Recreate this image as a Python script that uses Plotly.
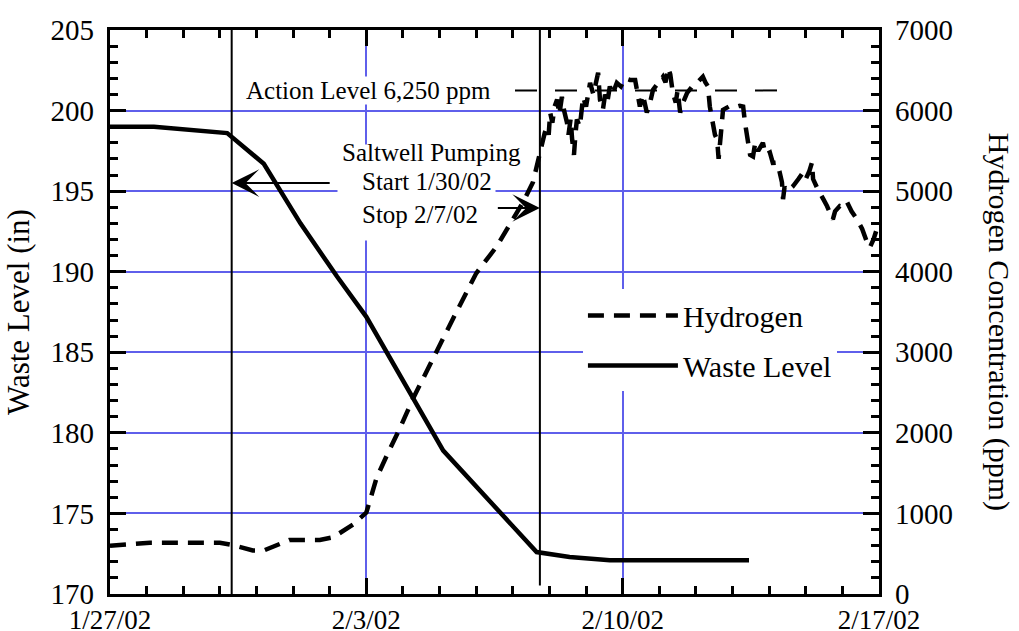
import pandas as pd
import plotly.graph_objects as go

START = pd.Timestamp("2002-01-27")

# ---- data (elapsed days since 1/27/02) ----
waste_days = [0.0, 1.2, 3.2, 4.2, 5.2, 6.2, 7.0, 9.1, 11.65, 12.55, 13.65, 17.45]
waste_level = [199.0, 199.0, 198.6, 196.7, 193.0, 189.7, 187.2, 178.9, 172.6, 172.3, 172.1, 172.1]

h2_days = [0.0, 1.09, 3.0, 3.32, 3.9, 4.2, 4.9, 5.73, 6.1, 6.64, 7.0, 7.28, 7.6, 7.92,
           8.28, 8.82, 9.37, 10.0, 10.57, 11.0, 11.3, 11.55, 11.62, 11.71, 11.76, 11.82,
           11.87, 11.93, 11.98, 12.02, 12.08, 12.14, 12.21, 12.27, 12.34, 12.40, 12.48,
           12.52, 12.58, 12.62, 12.67, 12.71, 12.75, 12.83, 12.92, 13.0, 13.11, 13.2,
           13.33, 13.38, 13.46, 13.52, 13.58, 13.65, 13.72, 13.84, 13.95, 14.06, 14.2,
           14.34, 14.4, 14.47, 14.55, 14.66, 14.75, 14.83, 14.95, 15.10, 15.17, 15.24,
           15.30, 15.37, 15.45, 15.5, 15.57, 15.65, 15.76, 15.9, 16.03, 16.1, 16.19,
           16.26, 16.33, 16.38, 16.47, 16.52, 16.58, 16.62, 16.68, 16.74, 16.9, 17.05,
           17.2, 17.29, 17.34, 17.42, 17.48, 17.56, 17.62, 17.7, 17.83, 17.9, 18.02,
           18.1, 18.21, 18.28, 18.35, 18.38, 18.42, 18.5, 18.65, 18.8, 18.92, 19.0,
           19.1, 19.17, 19.2, 19.3, 19.39, 19.48, 19.58, 19.66, 19.74, 19.8, 19.93,
           20.05, 20.13, 20.25, 20.4, 20.54, 20.6, 20.67, 20.75, 20.85, 20.94, 21.0]
h2_ppm = [600, 635, 635, 610, 540, 540, 670, 670, 705, 864, 1010, 1440, 1760, 2060,
          2430, 2930, 3420, 3980, 4320, 4650, 4880, 5110, 5250, 5395, 5520, 5600,
          5720, 5800, 5700, 5975, 5850, 6050, 6136, 5950, 6170, 6000, 5850,
          5700, 5900, 5640, 5450, 5700, 5890, 5800, 6170, 6050, 6345, 6200,
          6470, 6136, 6010, 6200, 6100, 6300, 6200, 6345, 6300, 6400, 6380,
          6380, 6250, 6050, 6200, 5975, 6100, 6260, 6330, 6420, 6350, 6530,
          6450, 6220, 6100, 6250, 5975, 6100, 6220, 6300, 6345, 6380, 6420,
          6350, 6300, 6050, 5850, 5700, 5640, 5400, 5700, 6010, 6050, 6040,
          6060, 6050, 5850, 5600, 5450, 5430, 5600, 5500, 5600, 5450, 5480,
          5350, 5355, 5250, 5110, 4900, 5050, 5000, 5060, 5150, 5230, 5150,
          5250, 5355, 5150, 5050, 4985, 4900, 4815, 4720, 4650, 4750, 4815,
          4800, 4860, 4750, 4650, 4530, 4450, 4370, 4300, 4400, 4530, 4600]

x_range = ["2002-01-27", "2002-02-17"]
x_tick_format = "%-m/%-d/%y"   # 1/27/02, 2/3/02, 2/10/02, 2/17/02
x_tick_step_days = 7
left_range = [170, 205]
right_range = [0, 7000]

action_level = 6250
pump_start = "2002-01-30 07:45"
pump_stop = "2002-02-07 17:45"

DAY_MS = 86400000


def d(days):
    t = START + pd.to_timedelta(days, unit="D")
    return t.round("min").strftime("%Y-%m-%d %H:%M")


waste_x = [d(v) for v in waste_days]
h2_x = [d(v) for v in h2_days]

FONT = "Liberation Serif, Times New Roman, serif"
GRID = "rgb(95,95,235)"

fig = go.Figure()
fig.add_trace(go.Scatter(
    x=waste_x, y=waste_level, name="Waste Level", mode="lines",
    line=dict(color="black", width=4.5),
    legendrank=2, legendgroup="w"))
fig.add_trace(go.Scatter(
    x=h2_x, y=h2_ppm, yaxis="y2", name="Hydrogen", mode="lines",
    line=dict(color="black", width=4.5, dash="16px,10px"),
    legendrank=1, legendgroup="h"))
# empty traces that attach the tick-only axes
fig.add_trace(go.Scatter(x=[], y=[], xaxis="x2", yaxis="y", showlegend=False, hoverinfo="skip"))
fig.add_trace(go.Scatter(x=[], y=[], xaxis="x", yaxis="y3", showlegend=False, hoverinfo="skip"))
fig.add_trace(go.Scatter(x=[], y=[], xaxis="x", yaxis="y4", showlegend=False, hoverinfo="skip"))

label_axis = dict(showline=True, linecolor="black", linewidth=3, ticks="",
                  zeroline=False, automargin=False)
tick_axis = dict(showline=True, linecolor="black", linewidth=3,
                 ticks="inside", tickcolor="black", tickwidth=3, ticklen=16,
                 showticklabels=False, showgrid=False, zeroline=False, automargin=False)

fig.update_layout(
    width=1019, height=631,
    margin=dict(l=110, r=140, t=30, b=37, autoexpand=False),
    paper_bgcolor="white", plot_bgcolor="white",
    font=dict(family=FONT, color="black"),
    showlegend=True,
    legend=dict(x=0.615, y=0.540, xanchor="left", yanchor="top",
                bgcolor="white", borderwidth=0,
                font=dict(family=FONT, size=30, color="black"),
                tracegroupgap=8, itemwidth=90),
    xaxis=dict(
        type="date", range=x_range,
        tickmode="linear", tick0=x_range[0], dtick=x_tick_step_days * DAY_MS,
        tickformat=x_tick_format, mirror=True,
        tickfont=dict(family=FONT, size=27, color="black"),
        showgrid=True, gridcolor=GRID, gridwidth=2,
        **label_axis),
    yaxis=dict(
        range=left_range, tick0=170, dtick=5, ticksuffix="\u00a0",
        tickfont=dict(family=FONT, size=29, color="black"),
        showgrid=True, gridcolor=GRID, gridwidth=2,
        title=dict(text="Waste Level (in)", font=dict(family=FONT, size=31, color="black"),
                   standoff=12),
        **label_axis),
    yaxis2=dict(
        overlaying="y", side="right", range=right_range, tick0=0, dtick=1000,
        tickprefix="\u00a0",
        tickfont=dict(family=FONT, size=29, color="black"),
        showgrid=False,
        **label_axis),
    # tick-only axes (inside ticks, major + minor)
    xaxis2=dict(
        overlaying="x", anchor="y", side="bottom", type="date", range=x_range,
        tickmode="linear", tick0=x_range[0], dtick=x_tick_step_days * DAY_MS,
        mirror="ticks",
        minor=dict(dtick=DAY_MS, ticks="inside", ticklen=8, tickwidth=3,
                   tickcolor="black"),
        **tick_axis),
    yaxis3=dict(
        overlaying="y", anchor="x", side="left", range=left_range, tick0=170, dtick=5,
        minor=dict(dtick=1, ticks="inside", ticklen=8, tickwidth=3, tickcolor="black"),
        **tick_axis),
    yaxis4=dict(
        overlaying="y", anchor="x", side="right", range=right_range, tick0=0, dtick=1000,
        minor=dict(dtick=200, ticks="inside", ticklen=8, tickwidth=3, tickcolor="black"),
        **tick_axis),
)

# white mask behind the pumping text (hides the grid there)
fig.add_annotation(x=d(8.37), y=194.92, xref="x", yref="y", text=" ",
                   width=157, height=95, bgcolor="white", borderpad=0,
                   showarrow=False)

# pumping start / stop lines
fig.add_shape(type="line", xref="x", yref="paper", x0=pump_start, x1=pump_start,
              y0=0, y1=1, line=dict(color="black", width=2))
fig.add_shape(type="line", xref="x", yref="paper", x0=pump_stop, x1=pump_stop,
              y0=0.015, y1=1.005, line=dict(color="black", width=2))

# action level line
fig.add_shape(type="line", xref="x", yref="y2", x0=d(11.06), x1=d(18.24),
              y0=action_level, y1=action_level,
              line=dict(color="black", width=2, dash="22px,18px"))

fig.add_annotation(x=d(7.07), y=action_level, xref="x", yref="y2",
                   text="Action Level 6,250 ppm", showarrow=False,
                   font=dict(family=FONT, size=25, color="black"),
                   bgcolor="white", borderpad=0)
fig.add_annotation(x=d(8.77), y=5481, xref="x", yref="y2",
                   text="Saltwell Pumping", showarrow=False,
                   font=dict(family=FONT, size=25, color="black"))
fig.add_annotation(x=d(6.83), y=4914, xref="x", yref="y2", xanchor="left", align="left",
                   text="Start 1/30/02<br>Stop 2/7/02", showarrow=False,
                   font=dict(family=FONT, size=25, color="black"))

# arrows
fig.add_annotation(x=pump_start, y=195.5, xref="x", yref="y",
                   ax=d(6.04), ay=195.5, axref="x", ayref="y", text="",
                   showarrow=True, arrowhead=3, arrowsize=2.3, arrowwidth=2,
                   arrowcolor="black", standoff=0)
fig.add_annotation(x=pump_stop, y=193.95, xref="x", yref="y",
                   ax=d(10.55), ay=193.95, axref="x", ayref="y", text="",
                   showarrow=True, arrowhead=3, arrowsize=2.3, arrowwidth=2,
                   arrowcolor="black", standoff=0)

# right axis title (reads top to bottom)
fig.add_annotation(x=1.157, y=0.483, xref="paper", yref="paper",
                   xanchor="center", yanchor="middle",
                   text="Hydrogen Concentration (ppm)", textangle=90, showarrow=False,
                   font=dict(family=FONT, size=30, color="black"))

fig.write_html("out.html")
